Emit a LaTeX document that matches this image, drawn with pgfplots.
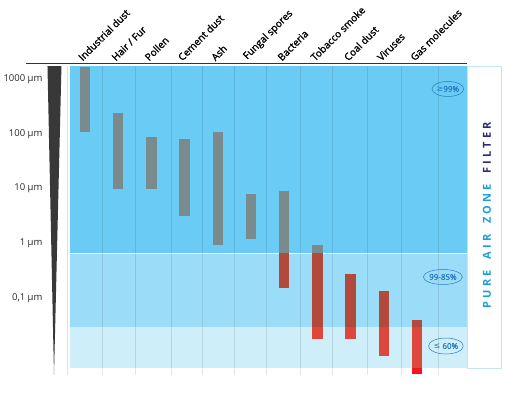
\documentclass[border=0pt]{standalone}
\usepackage{fontspec}
\setmainfont{Open Sans}
\newfontfamily\symfont{DejaVu Sans}
\newfontfamily\semib[FakeBold=1.4]{Open Sans}
\newfontfamily\spacedfont[LetterSpace=28]{Open Sans}
\usepackage{pgfplots}
\pgfplotsset{compat=1.18}
\usetikzlibrary{shapes.geometric}
\definecolor{zonetop}{HTML}{6ACCF5}
\definecolor{zonemid}{HTML}{9BDDF8}
\definecolor{zonelow}{HTML}{CEEEFA}
\definecolor{graybar}{HTML}{7A8B8D}
\definecolor{darkred}{HTML}{B24A3C}
\definecolor{brightred}{HTML}{DE483C}
\definecolor{purered}{HTML}{F5141E}
\definecolor{labblue}{HTML}{2A7CC0}
\definecolor{boxblue}{HTML}{C4E5F5}
\definecolor{pureblue}{HTML}{1E9FD8}
\definecolor{navy}{HTML}{2E2A78}
\begin{document}
\begin{tikzpicture}
\path[use as bounding box] (-70pt,-17pt) rectangle (455pt,375pt);
\begin{axis}[
  at={(0pt,0pt)}, anchor=south west,
  scale only axis, width=397pt, height=312pt,
  ymode=log, ymin=0.003954, ymax=1949.8,
  xmin=-0.452, xmax=11.506,
  axis line style={draw=none},
  xtick={0,...,10},
  xticklabels={Industrial dust, Hair / Fur, Pollen, Cement dust, Ash, Fungal spores, Bacteria, Tobacco smoke, Coal dust, Viruses, Gas molecules},
  xticklabel pos=upper,
  xticklabel style={rotate=45, anchor=south west, font=\semib\fontsize{10}{10}\selectfont, xshift=-4pt, yshift=-1pt, text=black},
  ytick={0.1,1,10,100,1000},
  yticklabels={{0,1 µm},{1 µm},{10 µm},{100 µm},{1000 µm}},
  yticklabel style={font=\fontsize{9.5}{10}\selectfont, xshift=-24pt, text=black!85},
  major tick length=0pt,
  clip=false,
  every axis plot/.append style={no markers},
]
% zones
\addplot[draw=none, fill=zonetop] coordinates {(-0.452,0.66) (11.506,0.66) (11.506,1726) (-0.452,1726)} -- cycle;
\addplot[draw=none, fill=zonemid] coordinates {(-0.452,0.0295) (11.506,0.0295) (11.506,0.645) (-0.452,0.645)} -- cycle;
\addplot[draw=none, fill=zonelow] coordinates {(-0.452,0.00525) (11.506,0.00525) (11.506,0.0295) (-0.452,0.0295)} -- cycle;
% dividers
\pgfplotsinvokeforeach{0.51,1.51,2.59,3.52,4.49,5.45,6.48,7.44,8.49,9.52,10.63}{
  \addplot[black, opacity=0.1, line width=0.6pt] coordinates {(#1,0.003954) (#1,1726)};
}
% gray segments (top zone)
\addplot[graybar, line width=10.5pt] coordinates {(0,107) (0,1660)};
\addplot[graybar, line width=10.5pt] coordinates {(1,10) (1,240)};
\addplot[graybar, line width=10.5pt] coordinates {(2,10) (2,87)};
\addplot[graybar, line width=10.5pt] coordinates {(3,3.2) (3,81)};
\addplot[graybar, line width=10.5pt] coordinates {(4,0.93) (4,107)};
\addplot[graybar, line width=10.5pt] coordinates {(5,1.2) (5,7.9)};
\addplot[graybar, line width=10.5pt] coordinates {(6,0.66) (6,9.1)};
\addplot[graybar, line width=10.5pt] coordinates {(7,0.66) (7,0.93)};
% dark red segments (middle zone)
\addplot[darkred, line width=10.5pt] coordinates {(6,0.155) (6,0.66)};
\addplot[darkred, line width=10.5pt] coordinates {(7,0.0295) (7,0.66)};
\addplot[darkred, line width=10.5pt] coordinates {(8,0.0295) (8,0.275)};
\addplot[darkred, line width=10.5pt] coordinates {(9,0.0295) (9,0.135)};
\addplot[darkred, line width=10.5pt] coordinates {(10,0.0295) (10,0.040)};
% bright red segments (lower zone)
\addplot[brightred, line width=10.5pt] coordinates {(7,0.018) (7,0.0295)};
\addplot[brightred, line width=10.5pt] coordinates {(8,0.018) (8,0.0295)};
\addplot[brightred, line width=10.5pt] coordinates {(9,0.0089) (9,0.0295)};
\addplot[brightred, line width=10.5pt] coordinates {(10,0.00525) (10,0.0295)};
% below zones
\addplot[purered, line width=10.5pt] coordinates {(10,0.0042) (10,0.00525)};
% decorations
\draw[black!80, line width=0.8pt] (rel axis cs:-0.111,1) -- (rel axis cs:1,1);
\fill[black!78] (rel axis cs:-0.0567,0.990) -- (rel axis cs:-0.0215,0.990) -- (rel axis cs:-0.0403,0) -- cycle;
\draw[black!12, line width=0.6pt] (rel axis cs:-0.0076,0) -- (rel axis cs:-0.0076,0.990);
\draw[boxblue, line width=0.7pt] (rel axis cs:1,0.0224) rectangle (rel axis cs:1.0856,0.990);
\node[rotate=90, font=\spacedfont\bfseries\fontsize{11}{12}\selectfont] at (rel axis cs:1.050,0.512) {\textcolor{pureblue}{PURE\hspace{5pt} AIR\hspace{5pt} ZONE}\hspace{5pt} \textcolor{navy}{FILTER}};
\node[draw=labblue, ellipse, minimum width=31pt, minimum height=15pt, inner sep=0pt, text=labblue, font=\semib\fontsize{8}{8}\selectfont, line width=0.5pt] at (axis cs:10.93,655) {{\symfont ≥}99\%};
\node[draw=labblue, ellipse, minimum width=39pt, minimum height=15pt, inner sep=0pt, text=labblue, font=\semib\fontsize{8}{8}\selectfont, line width=0.5pt] at (axis cs:10.78,0.243) {99-85\%};
\node[draw=labblue, ellipse, minimum width=33pt, minimum height=16pt, inner sep=0pt, text=labblue, font=\semib\fontsize{8}{8}\selectfont, line width=0.5pt] at (axis cs:10.87,0.01336) {{\symfont ≤} 60\%};
\end{axis}
\end{tikzpicture}
\end{document}
